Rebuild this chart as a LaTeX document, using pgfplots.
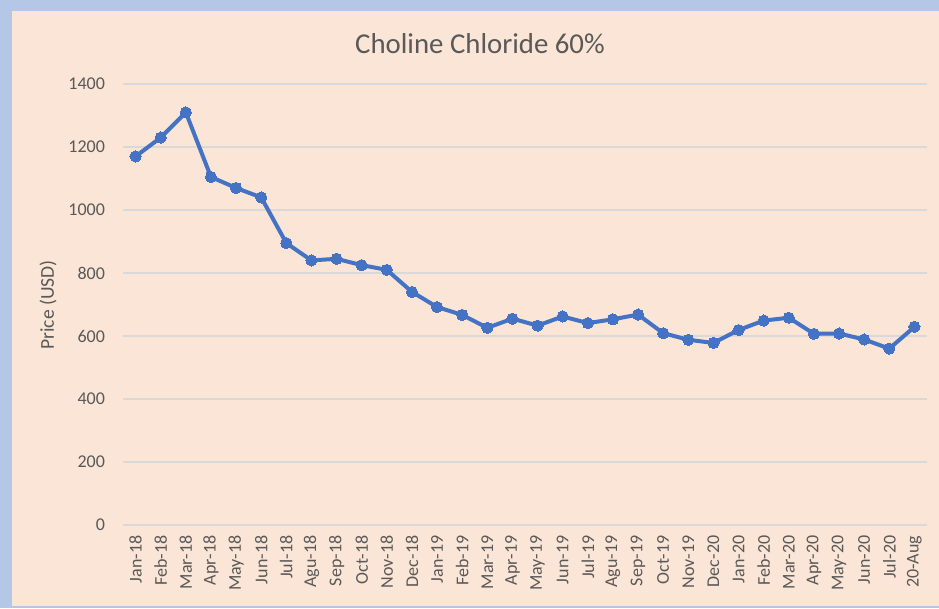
\documentclass[border=0pt]{standalone}
\usepackage{pgfplots}
\pgfplotsset{compat=1.18}
\usepackage{fontspec}
\setmainfont{Carlito}
\definecolor{peach}{HTML}{FBE5D6}
\definecolor{frameblue}{HTML}{B4C7E7}
\definecolor{txt}{HTML}{595959}
\definecolor{gridc}{HTML}{D9D9D9}
\definecolor{linec}{HTML}{4472C4}
\begin{document}
\begin{tikzpicture}
\fill[frameblue] (0,0) rectangle (704.25pt,456pt);
\fill[peach] (9pt,1.5pt) rectangle (704.25pt,447.75pt);
\node[text=txt, font=\fontsize{21.6pt}{25pt}\selectfont] at (360pt,423pt) {Choline Chloride 60\%};
\node[text=txt, rotate=90, font=\fontsize{14.7pt}{17pt}\selectfont] at (36pt,227.25pt) {Price (USD)};
\begin{axis}[
  at={(92.25pt,62.25pt)}, anchor=south west,
  scale only axis, width=603pt, height=330.75pt,
  xmin=-0.5, xmax=31.5, ymin=0, ymax=1400,
  ytick={0,200,...,1400},
  xtick=data,
  xticklabels={Jan-18,Feb-18,Mar-18,Apr-18,May-18,Jun-18,Jul-18,Agu-18,Sep-18,Oct-18,Nov-18,Dec-18,Jan-19,Feb-19,Mar-19,Apr-19,May-19,Jun-19,Jul-19,Agu-19,Sep-19,Oct-19,Nov-19,Dec-20,Jan-20,Feb-20,Mar-20,Apr-20,May-20,Jun-20,Jul-20,20-Aug},
  axis line style={draw=none},
  major tick length=0pt,
  ymajorgrids, grid style={gridc, line width=1.1pt},
  xticklabel style={rotate=90, anchor=east, xshift=-4.5pt, text=txt, font=\fontsize{13.5pt}{15pt}\selectfont},
  yticklabel style={xshift=-10pt, text=txt, font=\fontsize{13.5pt}{15pt}\selectfont},
  /pgf/number format/assume math mode=true,
  scaled y ticks=false,
  y tick label style={/pgf/number format/.cd, set thousands separator={}},
  clip=false,
]
\addplot[linec, line width=3pt, mark=*, mark size=4.2pt, mark options={fill=linec, draw=linec, line width=0pt}] coordinates {
(0,1170) (1,1230) (2,1310) (3,1105) (4,1070) (5,1040) (6,895) (7,840) (8,845) (9,825) (10,810) (11,740)
(12,692) (13,667) (14,626) (15,655) (16,633) (17,662) (18,641) (19,653) (20,668) (21,609) (22,588) (23,578)
(24,619) (25,649) (26,658) (27,607) (28,608) (29,589) (30,560) (31,629)
};
\end{axis}
\end{tikzpicture}
\end{document}
